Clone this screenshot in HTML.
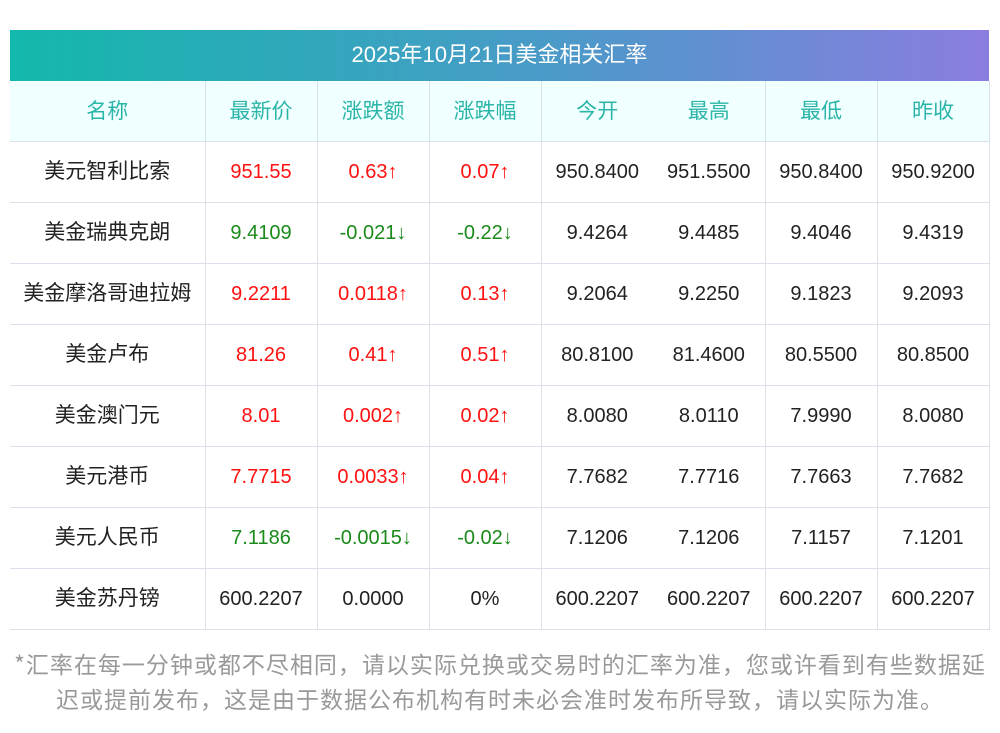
<!DOCTYPE html>
<html><head><meta charset="utf-8"><style>
body{margin:0;background:#fff;width:1000px;height:733px;overflow:hidden;font-family:"Liberation Sans","Noto Sans CJK SC",sans-serif;position:relative}
.title{position:absolute;left:10px;top:30px;width:979px;height:51px;background:linear-gradient(90deg,#13b8ac,#4a9ac8 55%,#8b7de0);color:#fff;font-size:22px;line-height:49px;text-align:center}
table{position:absolute;left:10px;top:81px;border-collapse:collapse;table-layout:fixed;width:979px}
td{height:60px;border-bottom:1px solid #dde0ea;border-right:1px solid #dde0ea;text-align:center;font-size:20px;color:#222;padding:0;white-space:nowrap}
td:first-child{font-size:21px;padding-bottom:4px;height:56px}
tr.h td{background:#f0ffff;color:#2bb5a8;font-size:21px;padding-bottom:2px;height:58px}
td.nb{border-right:none}
.r{color:#f11}.g{color:#1a8a1a}
.foot{position:absolute;left:0;top:646px;width:1000px;text-align:center;font-size:23px;letter-spacing:1px;line-height:35px;color:#999;font-family:"Noto Sans CJK SC",sans-serif;white-space:nowrap}
</style></head><body>
<div class="title">2025年10月21日美金相关汇率</div>
<table>
<colgroup><col style="width:195px"><col style="width:112px"><col style="width:112px"><col style="width:112px"><col style="width:112px"><col style="width:112px"><col style="width:112px"><col style="width:112px"></colgroup>
<tr class="h"><td>名称</td><td>最新价</td><td>涨跌额</td><td>涨跌幅</td><td class="nb">今开</td><td>最高</td><td>最低</td><td>昨收</td></tr>
<tr><td>美元智利比索</td><td class="r">951.55</td><td class="r">0.63↑</td><td class="r">0.07↑</td><td class="nb">950.8400</td><td>951.5500</td><td>950.8400</td><td>950.9200</td></tr>
<tr><td>美金瑞典克朗</td><td class="g">9.4109</td><td class="g">-0.021↓</td><td class="g">-0.22↓</td><td class="nb">9.4264</td><td>9.4485</td><td>9.4046</td><td>9.4319</td></tr>
<tr><td>美金摩洛哥迪拉姆</td><td class="r">9.2211</td><td class="r">0.0118↑</td><td class="r">0.13↑</td><td class="nb">9.2064</td><td>9.2250</td><td>9.1823</td><td>9.2093</td></tr>
<tr><td>美金卢布</td><td class="r">81.26</td><td class="r">0.41↑</td><td class="r">0.51↑</td><td class="nb">80.8100</td><td>81.4600</td><td>80.5500</td><td>80.8500</td></tr>
<tr><td>美金澳门元</td><td class="r">8.01</td><td class="r">0.002↑</td><td class="r">0.02↑</td><td class="nb">8.0080</td><td>8.0110</td><td>7.9990</td><td>8.0080</td></tr>
<tr><td>美元港币</td><td class="r">7.7715</td><td class="r">0.0033↑</td><td class="r">0.04↑</td><td class="nb">7.7682</td><td>7.7716</td><td>7.7663</td><td>7.7682</td></tr>
<tr><td>美元人民币</td><td class="g">7.1186</td><td class="g">-0.0015↓</td><td class="g">-0.02↓</td><td class="nb">7.1206</td><td>7.1206</td><td>7.1157</td><td>7.1201</td></tr>
<tr><td>美金苏丹镑</td><td>600.2207</td><td>0.0000</td><td>0%</td><td class="nb">600.2207</td><td>600.2207</td><td>600.2207</td><td>600.2207</td></tr>
</table>
<div class="foot">*汇率在每一分钟或都不尽相同，请以实际兑换或交易时的汇率为准，您或许看到有些数据延<br>迟或提前发布，这是由于数据公布机构有时未必会准时发布所导致，请以实际为准。</div>
</body></html>
